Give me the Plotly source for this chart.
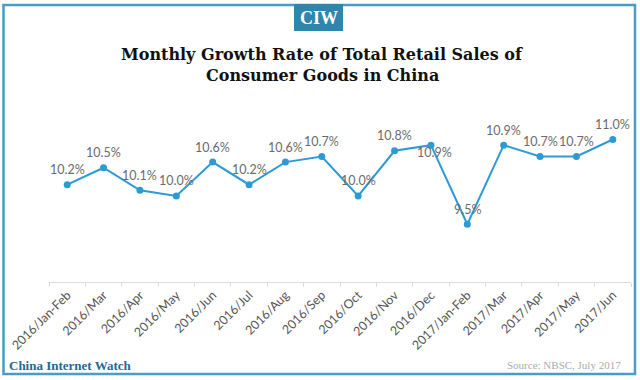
import plotly.graph_objects as go

months = ["2016/Jan-Feb", "2016/Mar", "2016/Apr", "2016/May", "2016/Jun", "2016/Jul",
          "2016/Aug", "2016/Sep", "2016/Oct", "2016/Nov", "2016/Dec", "2017/Jan-Feb",
          "2017/Mar", "2017/Apr", "2017/May", "2017/Jun"]
growth = [10.2, 10.5, 10.1, 10.0, 10.6, 10.2, 10.6, 10.7, 10.0, 10.8, 10.9, 9.5,
          10.9, 10.7, 10.7, 11.0]

W, H = 640, 380
LINE = "#2c9bd3"

fig = go.Figure()
fig.add_trace(go.Scatter(
    x=months, y=growth, mode="lines+markers",
    line=dict(color=LINE, width=2),
    marker=dict(color=LINE, size=7),
    hoverinfo="x+y", showlegend=False,
))

annotations = []
for m, v in zip(months, growth):
    below = (m == "2016/Dec")
    annotations.append(dict(
        x=m, y=v, xref="x", yref="y", text=f"{v:.1f}%", showarrow=False,
        xanchor="center", yanchor="middle",
        yshift=-7 if below else 15, xshift=4 if below else 0,
        font=dict(family="Lato, 'Noto Sans', sans-serif", size=12.5, color="#6b6b6b"),
    ))

def px(x):
    return x / W

def py(y):
    return 1 - y / H

serif = "'Liberation Serif', 'DejaVu Serif', serif"
dserif = "'DejaVu Serif', 'Liberation Serif', serif"
annotations += [
    dict(x=px(322), y=py(54), xref="paper", yref="paper", showarrow=False,
         text="<b>Monthly Growth Rate of Total Retail Sales of</b>",
         font=dict(family=dserif, size=16, color="#111"), xanchor="center", yanchor="middle"),
    dict(x=px(322), y=py(75), xref="paper", yref="paper", showarrow=False,
         text="<b>Consumer Goods in China</b>",
         font=dict(family=dserif, size=16, color="#111"), xanchor="center", yanchor="middle"),
    dict(x=px(318.5), y=py(18), xref="paper", yref="paper", showarrow=False,
         text="<b>CIW</b>",
         font=dict(family=serif, size=18, color="white"), xanchor="center", yanchor="middle"),
    dict(x=px(7), y=py(365), xref="paper", yref="paper", showarrow=False,
         text="<b>China Internet Watch</b>",
         font=dict(family=serif, size=13, color="#1d6a96"), xanchor="left", yanchor="middle"),
    dict(x=px(623), y=py(365), xref="paper", yref="paper", showarrow=False,
         text="Source: NBSC, July 2017",
         font=dict(family=serif, size=11, color="#ababab"), xanchor="right", yanchor="middle"),
]

shapes = [
    dict(type="rect", xref="paper", yref="paper",
         x0=px(3.5), x1=px(635), y0=py(374), y1=py(5),
         line=dict(color="#4a9cc6", width=2.5), fillcolor="rgba(0,0,0,0)", layer="below"),
    dict(type="rect", xref="paper", yref="paper",
         x0=px(294), x1=px(343), y0=py(31), y1=py(4),
         line=dict(width=0), fillcolor="#2e86aa", layer="below"),
]

top_px, bot_px = 100, 282
y_per_px = 1 / 56.5
y_top = 10.0 + (196 - top_px) * y_per_px
y_bot = 10.0 - (bot_px - 196) * y_per_px

fig.update_layout(
    width=W, height=H,
    margin=dict(l=0, r=0, t=0, b=0),
    paper_bgcolor="white", plot_bgcolor="white",
    annotations=annotations, shapes=shapes,
    xaxis=dict(
        domain=[49 / W, 631 / W], type="category", range=[-0.5, len(months) - 0.5],
        tickangle=-45, tickson="boundaries", ticks="outside", ticklen=4,
        tickcolor="#dddddd", showline=True, linecolor="#dddddd", linewidth=1,
        showgrid=False, zeroline=False, automargin=False,
        tickfont=dict(family="Lato, 'Noto Sans', sans-serif", size=12.5, color="#555"),
    ),
    yaxis=dict(
        domain=[1 - bot_px / H, 1 - top_px / H], range=[y_bot, y_top],
        visible=False, showgrid=False, zeroline=False, automargin=False,
    ),
)

fig.write_html("out.html", config={"displayModeBar": False},
               post_script="document.body.style.margin='0';document.body.style.overflow='hidden';")
